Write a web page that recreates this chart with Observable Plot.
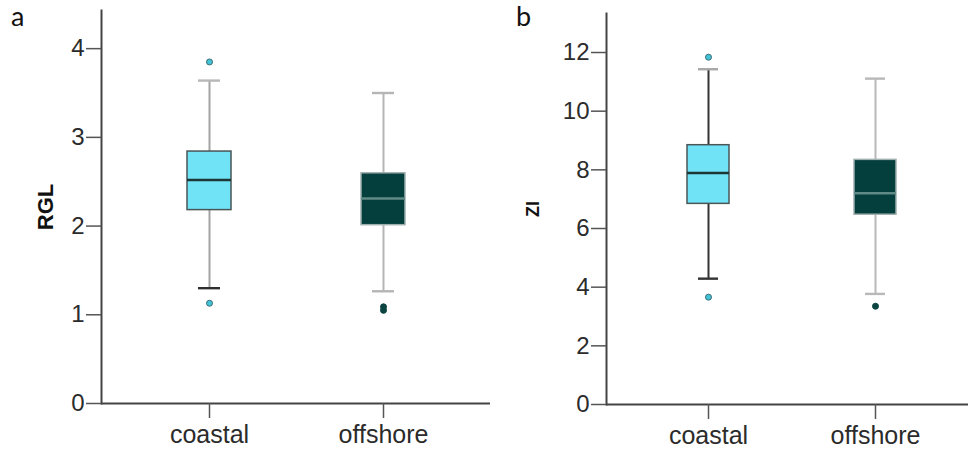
<!DOCTYPE html>
<html>
<head>
<meta charset="utf-8">
<script src="https://cdn.jsdelivr.net/npm/d3@7"></script>
<script src="https://cdn.jsdelivr.net/npm/@observablehq/plot@0.6"></script>
<style>
  html, body { margin: 0; padding: 0; background: #fff; }
  #chart { position: relative; width: 968px; height: 450px; overflow: hidden; }
  .panel { position: absolute; top: 0; }
  .tag { position: absolute; font-family: Lato, "Noto Sans", sans-serif; font-size: 27px; color: #111; line-height: 1; }
</style>
</head>
<body>
<div id="chart">
  <div class="panel" id="panel-a" style="left:0px"></div>
  <div class="panel" id="panel-b" style="left:490px"></div>
  <div class="tag" style="left:11px;top:2px">a</div>
  <div class="tag" style="left:516px;top:2px">b</div>
</div>
<script>
const groups = ["coastal", "offshore"];

// RGL: box-plot summaries per group
const rglLow    = [1.30, 1.265];
const rglQ1     = [2.18, 2.01];
const rglMedian = [2.52, 2.31];
const rglQ3     = [2.84, 2.595];
const rglHigh   = [3.64, 3.50];
const rglOutlierGroup = ["coastal", "coastal", "offshore", "offshore"];
const rglOutlierValue = [3.85, 1.13, 1.09, 1.05];
const rglTicks = [0, 1, 2, 3, 4];

// ZI: box-plot summaries per group
const ziLow    = [4.29, 3.77];
const ziQ1     = [6.84, 6.47];
const ziMedian = [7.89, 7.20];
const ziQ3     = [8.84, 8.34];
const ziHigh   = [11.43, 11.11];
const ziOutlierGroup = ["coastal", "coastal", "offshore"];
const ziOutlierValue = [11.84, 3.66, 3.35];
const ziTicks = [0, 2, 4, 6, 8, 10, 12];

// colours
const boxFill      = {coastal: "#70e3f6", offshore: "#053f3d"};
const boxStroke    = {coastal: "#4a5556", offshore: "#9fb0ae"};
const medianStroke = {coastal: "#1d3636", offshore: "#5f8a86"};
const dotFill      = {coastal: "#42c3d8", offshore: "#0b4441"};
const dotStroke    = {coastal: "#3b6d74", offshore: "#0b4441"};

const whiskersA = {
  stem:  {coastal: "#a3a3a3", offshore: "#b5b5b5"},
  upper: {coastal: "#b8b8b8", offshore: "#b5b5b5"},
  lower: {coastal: "#2e2e2e", offshore: "#b5b5b5"}
};
const whiskersB = {
  stem:  {coastal: "#333333", offshore: "#b8b8b8"},
  upper: {coastal: "#a8a8a8", offshore: "#b8b8b8"},
  lower: {coastal: "#333333", offshore: "#b8b8b8"}
};

function summaries(low, q1, median, q3, high) {
  return groups.map((group, i) => ({group, low: low[i], q1: q1[i], median: median[i], q3: q3[i], high: high[i]}));
}
function outlierRows(g, v) {
  return g.map((group, i) => ({group, value: v[i]}));
}

function boxPanel(o) {
  const {stats, outliers, whisker} = o;
  return Plot.plot({
    width: o.width,
    height: 450,
    marginLeft: o.marginLeft,
    marginRight: 0,
    marginTop: o.marginTop,
    marginBottom: o.marginBottom,
    style: {fontFamily: "'Liberation Sans', Arial, sans-serif", color: "#2b2b2b", background: "white", overflow: "visible"},
    x: {type: "band", domain: groups, paddingInner: 0.749, paddingOuter: o.paddingOuter, align: o.align, label: null},
    y: {domain: o.yDomain, label: null},
    color: {type: "identity"},
    marks: [
      Plot.ruleX(stats, {x: "group", y1: "low", y2: "high", stroke: d => whisker.stem[d.group], strokeWidth: 2}),
      Plot.tickY(stats, {x: "group", y: "high", stroke: d => whisker.upper[d.group], strokeWidth: 2.4, insetLeft: 11, insetRight: 11}),
      Plot.tickY(stats, {x: "group", y: "low", stroke: d => whisker.lower[d.group], strokeWidth: 2.4, insetLeft: 11, insetRight: 11}),
      Plot.barY(stats, {x: "group", y1: "q1", y2: "q3", fill: d => boxFill[d.group], stroke: d => boxStroke[d.group], strokeWidth: 1.5}),
      Plot.tickY(stats, {x: "group", y: "median", stroke: d => medianStroke[d.group], strokeWidth: 2.5}),
      Plot.dot(outliers, {x: "group", y: "value", r: 3, fill: d => dotFill[d.group], stroke: d => dotStroke[d.group], strokeWidth: 1}),
      Plot.ruleY([0], {stroke: "#444", strokeWidth: 2}),
      Plot.frame({anchor: "left", stroke: "#444", strokeWidth: 2}),
      Plot.axisY({ticks: o.ticks, tickFormat: d3.format("d"), tickSize: 15, tickPadding: 2, fontSize: 24, stroke: "#555", strokeWidth: 1.5, label: null}),
      Plot.axisX({tickSize: 15, tickPadding: 7, fontSize: 25, stroke: "#555", strokeWidth: 1.5, label: null}),
      Plot.text([o.label], {text: d => d, frameAnchor: "left", textAnchor: "middle", rotate: -90, dx: o.labelDx, fontSize: o.labelSize, fontWeight: "bold", fill: "#111"})
    ]
  });
}

document.getElementById("panel-a").append(boxPanel({
  width: 490, marginLeft: 101, marginTop: 10, marginBottom: 47,
  yDomain: [0, 4.43], ticks: rglTicks, paddingOuter: 0.486, align: 0.5,
  stats: summaries(rglLow, rglQ1, rglMedian, rglQ3, rglHigh),
  outliers: outlierRows(rglOutlierGroup, rglOutlierValue),
  whisker: whiskersA, label: "RGL", labelSize: 22, labelDx: -56
}));

document.getElementById("panel-b").append(boxPanel({
  width: 478, marginLeft: 116, marginTop: 13, marginBottom: 46,
  yDomain: [0, 13.33], ticks: ziTicks, paddingOuter: 0.458, align: 0.529,
  stats: summaries(ziLow, ziQ1, ziMedian, ziQ3, ziHigh),
  outliers: outlierRows(ziOutlierGroup, ziOutlierValue),
  whisker: whiskersB, label: "ZI", labelSize: 18, labelDx: -73
}));
</script>
</body>
</html>
